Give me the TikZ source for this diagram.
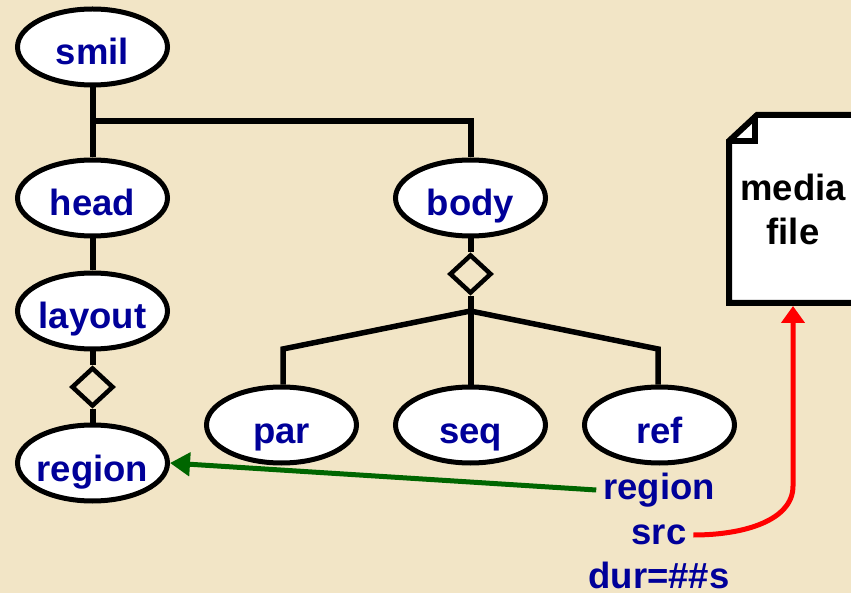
\documentclass[tikz,border=0pt]{standalone}
\usepackage{fontspec}
\setmainfont{Liberation Sans}
\usepackage{tikz}
\usetikzlibrary{arrows.meta,shapes.geometric}
\definecolor{paper}{HTML}{F2E5C6}
\definecolor{labelblue}{HTML}{000099}
\definecolor{linkgreen}{HTML}{006600}

\begin{document}
\begin{tikzpicture}[x=1pt,y=-1pt,line width=6pt,
  main node/.style={ellipse,draw,fill=white,line width=5pt,inner xsep=-20pt,inner ysep=-10pt,
    minimum width=150pt,minimum height=76pt,text height=36pt,text depth=0pt,
    text=labelblue,font=\fontsize{36.5}{40}\selectfont\bfseries},
  attr node/.style={inner xsep=4pt,inner ysep=0pt,text height=18pt,text depth=0pt,
    text=labelblue,font=\fontsize{36.5}{40}\selectfont\bfseries},
  comp node/.style={diamond,draw,fill=paper,line width=4.5pt,inner sep=0pt,minimum width=42pt,minimum height=39pt},
  file node/.style={inner sep=0pt,outer sep=0pt,minimum width=128pt,minimum height=194pt,align=center,
    font=\fontsize{36.5}{44}\selectfont\bfseries}]

  \fill[paper] (0,0) rectangle (851,593);
  \useasboundingbox (0,0) rectangle (851,593);

  \node[main node] (smil) at (92.5,47) {smil};
  \node[main node] (head) at (92.5,198) {head};
  \node[main node] (layout) at (92.5,311) {layout};
  \node[main node] (region) at (92.5,463) {region};
  \node[main node] (body) at (470.5,198) {body};
  \node[main node] (par) at (281.5,425) {par};
  \node[main node] (seq) at (470.5,425) {seq};
  \node[main node] (ref) at (659.5,425) {ref};

  \node[comp node] (d1) at (92.5,387) {};
  \node[comp node] (d2) at (470.5,274) {};

  \coordinate (j1) at (92.5,121);
  \coordinate (j2) at (470.5,121);
  \coordinate (j3) at (470.5,311);
  \coordinate (j4) at (283,349);
  \coordinate (j5) at (658,349);

  \path
    (smil) edge (head)
    (head) edge (layout)
    (layout) edge (d1)
    (d1) edge (region)
    (body) edge (d2)
    (d2) edge (seq);

  \draw (j1) -- (j2) -- (body);
  \draw[line width=5.5pt] (j4 |- par.north) -- (j4) -- (j3) -- (j5) -- (j5 |- ref.north);

  \node[attr node] (aregion) at (659,490) {region};
  \node[attr node] (asrc) at (659,535) {src};
  \node[attr node] (adur) at (659,579) {dur=\#\#s};

  % the sheet runs past the right edge
  \draw[fill=white,line join=miter] (729,141) -- (757,115) -- (860,115) -- (860,303) -- (729,303) -- cycle;
  \draw[line join=miter] (729,141) -- (755,141) -- (755,115);
  \node[file node] (media) at (793,209) {media\\file};

  \draw[line width=5pt,linkgreen,-{Triangle[length=20pt,width=23pt]}] (aregion.west) -- (region.east);
  \draw[line width=5pt,red,-{Triangle[length=17pt,width=23pt]}] (asrc.east) .. controls (745,535) and (793,520) .. (793,486) -- (media.south);

\end{tikzpicture}
\end{document}
